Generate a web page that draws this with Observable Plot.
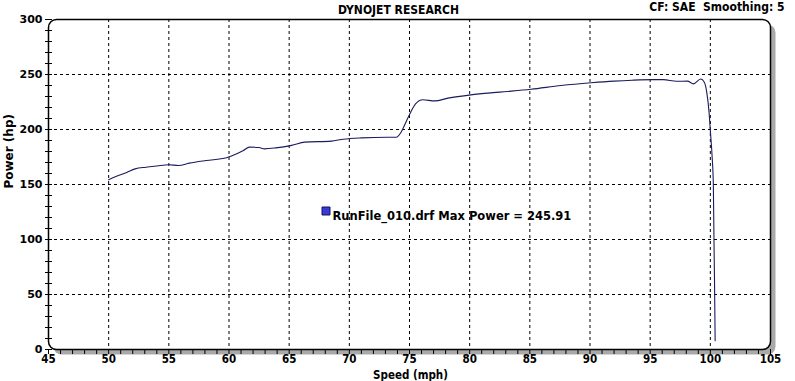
<!DOCTYPE html>
<html>
<head>
<meta charset="utf-8">
<script src="https://cdn.jsdelivr.net/npm/d3@7"></script>
<script src="https://cdn.jsdelivr.net/npm/@observablehq/plot@0.6"></script>
<style>
  html, body { margin: 0; padding: 0; background: #ffffff; }
  #chart svg { display: block; }
</style>
</head>
<body>
<div id="chart"></div>
<script>
// ---- data ----
const speed = [50, 50.6, 51.5, 52.2, 53.1, 54, 55, 55.8, 56.7, 58.1, 59.8, 60.3, 61.2, 61.7, 62.5, 62.95, 63.9, 65.2, 66.3, 68.5, 69.5, 71, 73.2, 73.9, 74.3, 74.7, 75.1, 75.5, 76.1, 77.1, 78.2, 80.1, 82.5, 85.1, 87.6, 90.1, 92, 93.5, 95.2, 96.1, 97.2, 98.1, 98.6, 99.2, 99.5, 99.7, 99.9, 100.0, 100.15, 100.25, 100.3, 100.35, 100.4];
const power = [154.3, 157.3, 161, 164.2, 165.7, 166.8, 167.9, 167.3, 169.4, 171.8, 174.3, 176.4, 181, 184, 183.6, 182.4, 183.3, 185.6, 188.5, 189.4, 191.2, 192.4, 193, 193, 197.5, 206.6, 215.7, 223.3, 227, 226, 228.5, 231.5, 234, 236.6, 240, 242.5, 244, 244.8, 245.3, 245.3, 243.8, 244, 241.5, 245.91, 243, 234, 215, 199, 175, 150, 102, 60, 8];
const xTicks = [45, 50, 55, 60, 65, 70, 75, 80, 85, 90, 95, 100, 105];
const yTicks = [0, 50, 100, 150, 200, 250, 300];
const runName = "RunFile_010.drf";
const maxPower = 245.91;
const titleText = "DYNOJET RESEARCH";
const infoText = "CF: SAE  Smoothing: 5";
const xLabel = "Speed (mph)";
const yLabel = "Power (hp)";

const data = speed.map((s, i) => ({speed: s, power: power[i]}));
const xMinor = d3.range(xTicks[0], xTicks[xTicks.length - 1] + 1, 1);
const yMinor = d3.range(yTicks[0], yTicks[yTicks.length - 1] + 1, 10);

const condensed = "'DejaVu Sans Condensed', 'DejaVu Sans', sans-serif";
const wide = "'DejaVu Sans', Verdana, sans-serif";

const chart = Plot.plot({
  width: 795,
  height: 381,
  marginLeft: 48,
  marginRight: 25,
  marginTop: 19,
  marginBottom: 32,
  style: {fontFamily: wide, fontSize: "11px", color: "black", background: "white"},
  x: {domain: [xTicks[0], xTicks[xTicks.length - 1]]},
  y: {domain: [yTicks[0], yTicks[yTicks.length - 1]]},
  marks: [
    // drop shadow of the frame
    Plot.frame({fill: "#a9a9a9", stroke: null, rx: 8, dx: 5, dy: 5}),
    Plot.frame({fill: "white", stroke: null, rx: 8}),
    Plot.gridX(xTicks.slice(1, -1), {stroke: "black", strokeOpacity: 1, strokeDasharray: "3,3", strokeWidth: 1}),
    Plot.gridY(yTicks.slice(1, -1), {stroke: "black", strokeOpacity: 1, strokeDasharray: "3,3", strokeWidth: 1}),
    Plot.line(data, {x: "speed", y: "power", stroke: "#1b1b5e", strokeWidth: 1.1, curve: "monotone-x"}),
    Plot.frame({stroke: "black", strokeWidth: 1.5, rx: 8}),
    // x axis: ticks every 1 mph, labels every 5
    Plot.axisX(xMinor, {
      tickSize: 5, tickPadding: 0,
      tickFormat: d => (xTicks.includes(d) ? String(d) : ""),
      fontFamily: condensed, fontWeight: "bold", fontSize: 11.5,
      stroke: "black", label: null
    }),
    // y axis ticks crossing the frame line
    Plot.axisY(yMinor, {
      tickSize: 7, tickPadding: 3, dx: 4,
      tickFormat: d => (yTicks.includes(d) ? String(d) : ""),
      fontFamily: wide, fontWeight: "bold", fontSize: 11,
      stroke: "black", label: null
    }),
    // axis titles
    Plot.text([yLabel], {frameAnchor: "left", text: d => d, rotate: -90, dx: -39, dy: 4,
      fontFamily: wide, fontWeight: "bold", fontSize: 12}),
    Plot.text([xLabel], {frameAnchor: "bottom", lineAnchor: "bottom", text: d => d, dy: 29, dx: 1,
      fontFamily: condensed, fontWeight: "bold", fontSize: 11.5}),
    // header
    Plot.text([titleText], {frameAnchor: "top", lineAnchor: "top", text: d => d, dx: -11, dy: -14,
      fontFamily: condensed, fontWeight: "bold", fontSize: 12}),
    Plot.text([infoText], {frameAnchor: "top-right", lineAnchor: "top", textAnchor: "end", text: d => d, dx: 14, dy: -17,
      fontFamily: condensed, fontWeight: "bold", fontSize: 12}),
    // legend
    Plot.dot([runName], {frameAnchor: "top-left", symbol: "square", r: 4.5, dx: 277.5, dy: 191.5,
      fill: "#3a3ad0", stroke: "#10106a", strokeWidth: 1}),
    Plot.text([`${runName} Max Power = ${maxPower.toFixed(2)}`], {frameAnchor: "top-left", textAnchor: "start",
      text: d => d, dx: 284, dy: 192, fontFamily: wide, fontWeight: "bold", fontSize: 11.5})
  ]
});
document.getElementById("chart").appendChild(chart);
</script>
</body>
</html>
